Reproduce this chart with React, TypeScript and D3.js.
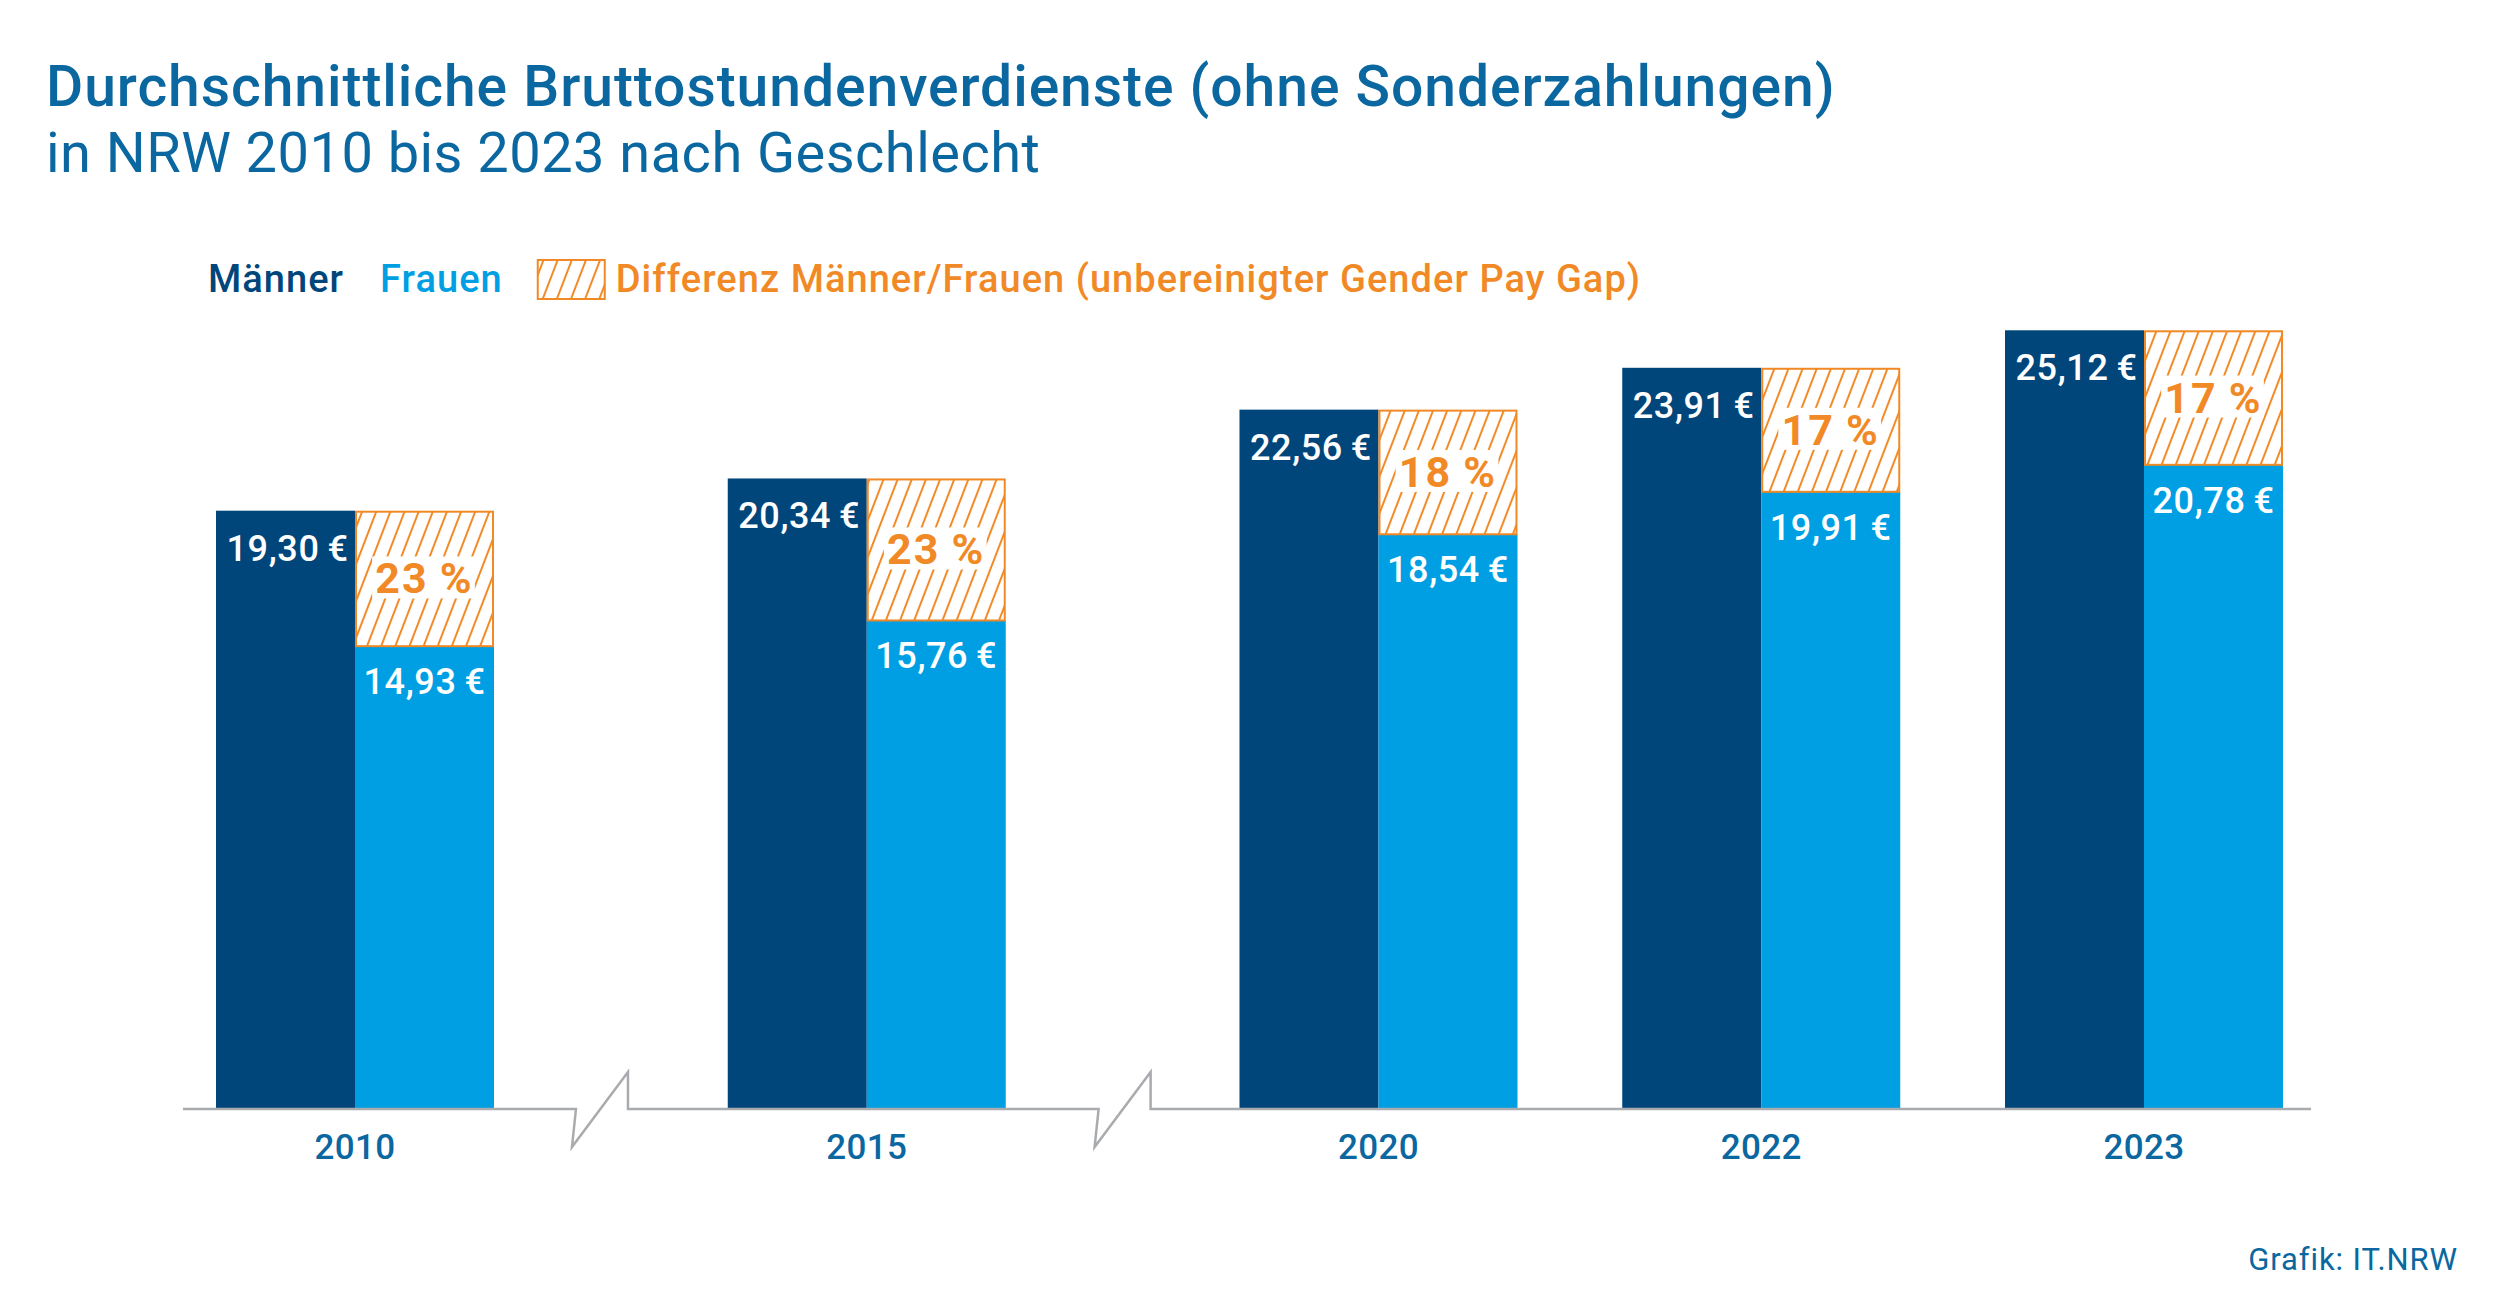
import React, { useEffect, useRef } from "react";
import * as d3 from "d3";

const years = ["2010", "2015", "2020", "2022", "2023"];
const maenner = [19.3, 20.34, 22.56, 23.91, 25.12];
const frauen = [14.93, 15.76, 18.54, 19.91, 20.78];
const gapPct = [23, 23, 18, 17, 17];
const breakBefore = [false, true, true, false, false];

const titleText = "Durchschnittliche Bruttostundenverdienste (ohne Sonderzahlungen)";
const subtitleText = "in NRW 2010 bis 2023 nach Geschlecht";
const legendLabels = ["Männer", "Frauen", "Differenz Männer/Frauen (unbereinigter Gender Pay Gap)"];
const sourceText = "Grafik: IT.NRW";

const W = 2500;
const H = 1313;
const C_MEN = "#00467b";
const C_WOMEN = "#009fe3";
const C_ORANGE = "#f18a26";
const C_TITLE = "#0b67a0";
const C_AXIS = "#a9abae";
const FONT = "Roboto, 'Open Sans', sans-serif";

const fmt = (v: number) => d3.format(".2f")(v).replace(".", ",") + "\u2009€";

export default function App() {
  const ref = useRef<SVGSVGElement | null>(null);

  useEffect(() => {
    document.body.style.margin = "0";
    const svg = d3.select(ref.current);
    svg.selectAll("*").remove();

    const defs = svg.append("defs");
    const pat = defs
      .append("pattern")
      .attr("id", "hatch")
      .attr("patternUnits", "userSpaceOnUse")
      .attr("width", 13.2)
      .attr("height", 13.2)
      .attr("patternTransform", "rotate(21)");
    pat.append("rect").attr("width", 13.2).attr("height", 13.2).attr("fill", "#fff");
    pat
      .append("line")
      .attr("x1", 6.6)
      .attr("x2", 6.6)
      .attr("y1", -1)
      .attr("y2", 14.2)
      .attr("stroke", C_ORANGE)
      .attr("stroke-width", 2);

    svg.append("rect").attr("width", W).attr("height", H).attr("fill", "#fff");

    // Title
    svg
      .append("text")
      .attr("x", 46)
      .attr("y", 106)
      .attr("font-family", FONT)
      .attr("font-weight", 500)
      .attr("font-size", 57)
      .attr("letter-spacing", 0.95)
      .attr("fill", C_TITLE)
      .text(titleText);
    svg
      .append("text")
      .attr("x", 46)
      .attr("y", 172)
      .attr("font-family", FONT)
      .attr("font-weight", 400)
      .attr("font-size", 56)
      .attr("letter-spacing", 0.45)
      .attr("fill", C_TITLE)
      .text(subtitleText);

    // Legend
    const lg = svg
      .append("g")
      .attr("font-family", FONT)
      .attr("font-size", 38)
      .attr("font-weight", 500)
      .attr("letter-spacing", 1.05);
    let lx = 208;
    const t1 = lg.append("text").attr("x", lx).attr("y", 292).attr("fill", C_MEN).text(legendLabels[0]);
    lx += (t1.node() as SVGTextElement).getComputedTextLength() + 36;
    const t2 = lg.append("text").attr("x", lx).attr("y", 292).attr("fill", C_WOMEN).text(legendLabels[1]);
    lx += (t2.node() as SVGTextElement).getComputedTextLength() + 35;
    lg.append("rect")
      .attr("x", lx)
      .attr("y", 260)
      .attr("width", 67)
      .attr("height", 39)
      .attr("fill", "url(#hatch)")
      .attr("stroke", C_ORANGE)
      .attr("stroke-width", 2);
    lx += 67 + 11;
    lg.append("text").attr("x", lx).attr("y", 292).attr("fill", C_ORANGE).text(legendLabels[2]);

    // Scales
    const b = 0.337;
    const slots: number[] = [];
    let acc = 0;
    years.forEach((_, i) => {
      if (i > 0) acc += 1 + (breakBefore[i] ? b : 0);
      slots.push(acc);
    });
    const x = d3.scaleLinear().domain([0, slots[slots.length - 1]]).range([355, 2144]);
    const y = d3.scaleLinear().domain([0, 30]).range([1109, 179]);
    const bw = 139;

    const g = svg.append("g");
    years.forEach((yr, i) => {
      const c = x(slots[i]);
      g.append("rect")
        .attr("x", c - bw)
        .attr("y", y(maenner[i]))
        .attr("width", bw)
        .attr("height", y(0) - y(maenner[i]))
        .attr("fill", C_MEN);
      g.append("rect")
        .attr("x", c)
        .attr("y", y(frauen[i]))
        .attr("width", bw)
        .attr("height", y(0) - y(frauen[i]))
        .attr("fill", C_WOMEN);
      g.append("rect")
        .attr("x", c + 1)
        .attr("y", y(maenner[i]) + 1)
        .attr("width", bw - 2)
        .attr("height", y(frauen[i]) - y(maenner[i]) - 1)
        .attr("fill", "url(#hatch)")
        .attr("stroke", C_ORANGE)
        .attr("stroke-width", 2);

      g.append("text")
        .attr("x", c - bw / 2 + 2)
        .attr("y", y(maenner[i]) + 50)
        .attr("text-anchor", "middle")
        .attr("font-family", FONT)
        .attr("font-weight", 500)
        .attr("font-size", 36)
        .attr("letter-spacing", 0.6)
        .attr("fill", "#fff")
        .text(fmt(maenner[i]));
      g.append("text")
        .attr("x", c + bw / 2)
        .attr("y", y(frauen[i]) + 48)
        .attr("text-anchor", "middle")
        .attr("font-family", FONT)
        .attr("font-weight", 500)
        .attr("font-size", 36)
        .attr("letter-spacing", 0.6)
        .attr("fill", "#fff")
        .text(fmt(frauen[i]));

      const mid = (y(maenner[i]) + y(frauen[i])) / 2;
      const bgRect = g.append("rect").attr("fill", "#fff");
      const pt = g
        .append("text")
        .attr("x", c + bw / 2)
        .attr("y", mid + 15)
        .attr("text-anchor", "middle")
        .attr("font-family", FONT)
        .attr("font-weight", 700)
        .attr("font-size", 43)
        .attr("letter-spacing", 2.2)
        .attr("fill", C_ORANGE)
        .text(gapPct[i] + "\u2009%");
      const bb = (pt.node() as SVGTextElement).getBBox();
      bgRect
        .attr("x", bb.x - 3)
        .attr("y", mid - 22)
        .attr("width", bb.width + 4)
        .attr("height", 42);

      g.append("text")
        .attr("x", c)
        .attr("y", 1159)
        .attr("text-anchor", "middle")
        .attr("font-family", FONT)
        .attr("font-weight", 500)
        .attr("font-size", 35)
        .attr("letter-spacing", 0.4)
        .attr("fill", C_TITLE)
        .text(yr);
    });

    // Axis with breaks
    const Y0 = y(0);
    const breaks = [0.64, (slots[1] + slots[2]) / 2].map((u) => x(u));
    let d = `M183,${Y0}`;
    breaks.forEach((bc) => {
      d += ` L${bc - 24},${Y0} L${bc - 28},${Y0 + 38} L${bc + 28},${Y0 - 37} L${bc + 28},${Y0}`;
    });
    d += ` L2311,${Y0}`;
    svg
      .append("path")
      .attr("d", d)
      .attr("fill", "none")
      .attr("stroke", C_AXIS)
      .attr("stroke-width", 2.5)
      .attr("stroke-linejoin", "miter");

    // Source
    svg
      .append("text")
      .attr("x", 2458)
      .attr("y", 1270)
      .attr("text-anchor", "end")
      .attr("font-family", FONT)
      .attr("font-weight", 400)
      .attr("font-size", 31)
      .attr("letter-spacing", 0.9)
      .attr("fill", C_TITLE)
      .text(sourceText);
  }, []);

  return <svg ref={ref} width={W} height={H} style={{ display: "block" }} />;
}
